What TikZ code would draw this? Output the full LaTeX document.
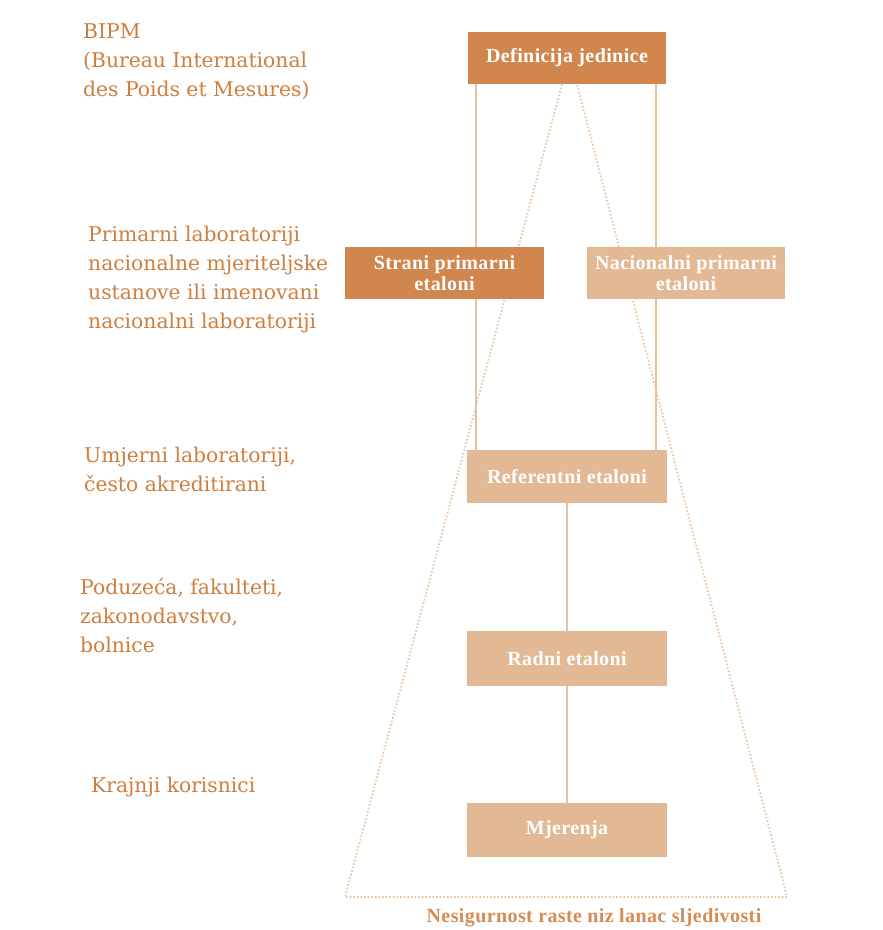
\documentclass[tikz,border=0pt]{standalone}
\usepackage{fontspec}
\setmainfont{DejaVu Serif}
\newfontfamily\boxfont[LetterSpace=2]{Liberation Serif}
\usetikzlibrary{backgrounds}
\definecolor{boxdark}{RGB}{208,134,76}
\definecolor{boxlight}{RGB}{227,185,149}
\definecolor{linecol}{RGB}{233,192,158}
\definecolor{leveltext}{RGB}{206,126,62}
\definecolor{notetext}{RGB}{212,140,84}
\pgfdeclarelayer{bg}
\pgfdeclarelayer{lines}
\pgfsetlayers{bg,lines,main}
\begin{document}
\begin{tikzpicture}[x=1pt,y=-1pt,
  stdbox/.style={rectangle, inner sep=0pt, minimum width=198pt, minimum height=52pt,
    text=white, font=\boxfont\bfseries\fontsize{20}{21}\selectfont, align=center},
  darkbox/.style={stdbox, fill=boxdark},
  lightbox/.style={stdbox, fill=boxlight},
  level/.style={anchor=north west, inner sep=0pt, align=left, text=leveltext,
    font=\fontsize{20.3}{29}\selectfont},
  link/.style={draw=linecol, line width=2.2pt},
  cone/.style={draw=linecol, line width=1.6pt, dotted}]
\useasboundingbox (0,0) rectangle (883,930);
\begin{pgfonlayer}{bg}
  \fill[white] (0,0) rectangle (883,930);
\end{pgfonlayer}

% boxes
\node[darkbox] (def) at (567,58) {Definicija jedinice};
\node[darkbox, minimum width=199pt] (str) at (444.5,273) {Strani primarni\\etaloni};
\node[lightbox] (nac) at (686,273) {Nacionalni primarni\\etaloni};
\node[lightbox, minimum width=200pt, minimum height=53pt] (ref) at (567,476.5) {Referentni etaloni};
\node[lightbox, minimum width=200pt, minimum height=55pt] (rad) at (567,658.5) {Radni etaloni};
\node[lightbox, minimum width=200pt, minimum height=54pt] (mje) at (567,830) {Mjerenja};

% level labels
\node[level] (l1) at (83,23.5) {BIPM\\(Bureau International\\des Poids et Mesures)};
\node[level] (l2) at (88,226) {Primarni laboratoriji\\nacionalne mjeriteljske\\ustanove ili imenovani\\nacionalni laboratoriji};
\node[level] (l3) at (84,447) {Umjerni laboratoriji,\\često akreditirani};
\node[level] (l4) at (80,578) {Poduzeća, fakulteti,\\zakonodavstvo,\\bolnice};
\node[level] (l5) at (91,777) {Krajnji korisnici};

% note
\node[text=notetext, font=\boxfont\bfseries\fontsize{20}{21}\selectfont, inner sep=0pt] (note) at (594,918) {Nesigurnost raste niz lanac sljedivosti};

\coordinate (bl) at (345,897);
\coordinate (br) at (787,897);

\begin{pgfonlayer}{lines}
  \draw[link] ([xshift=8pt]def.south west) -- ([xshift=9pt]ref.north west);
  \draw[link] ([xshift=-10pt]def.south east) -- ([xshift=-11pt]ref.north east);
  \draw[link] (ref) -- (rad);
  \draw[link] (rad) -- (mje);
  \draw[cone] ([xshift=-5pt]def.south) -- (bl) -- (br) -- ([xshift=10pt]def.south);
\end{pgfonlayer}
\end{tikzpicture}
\end{document}
